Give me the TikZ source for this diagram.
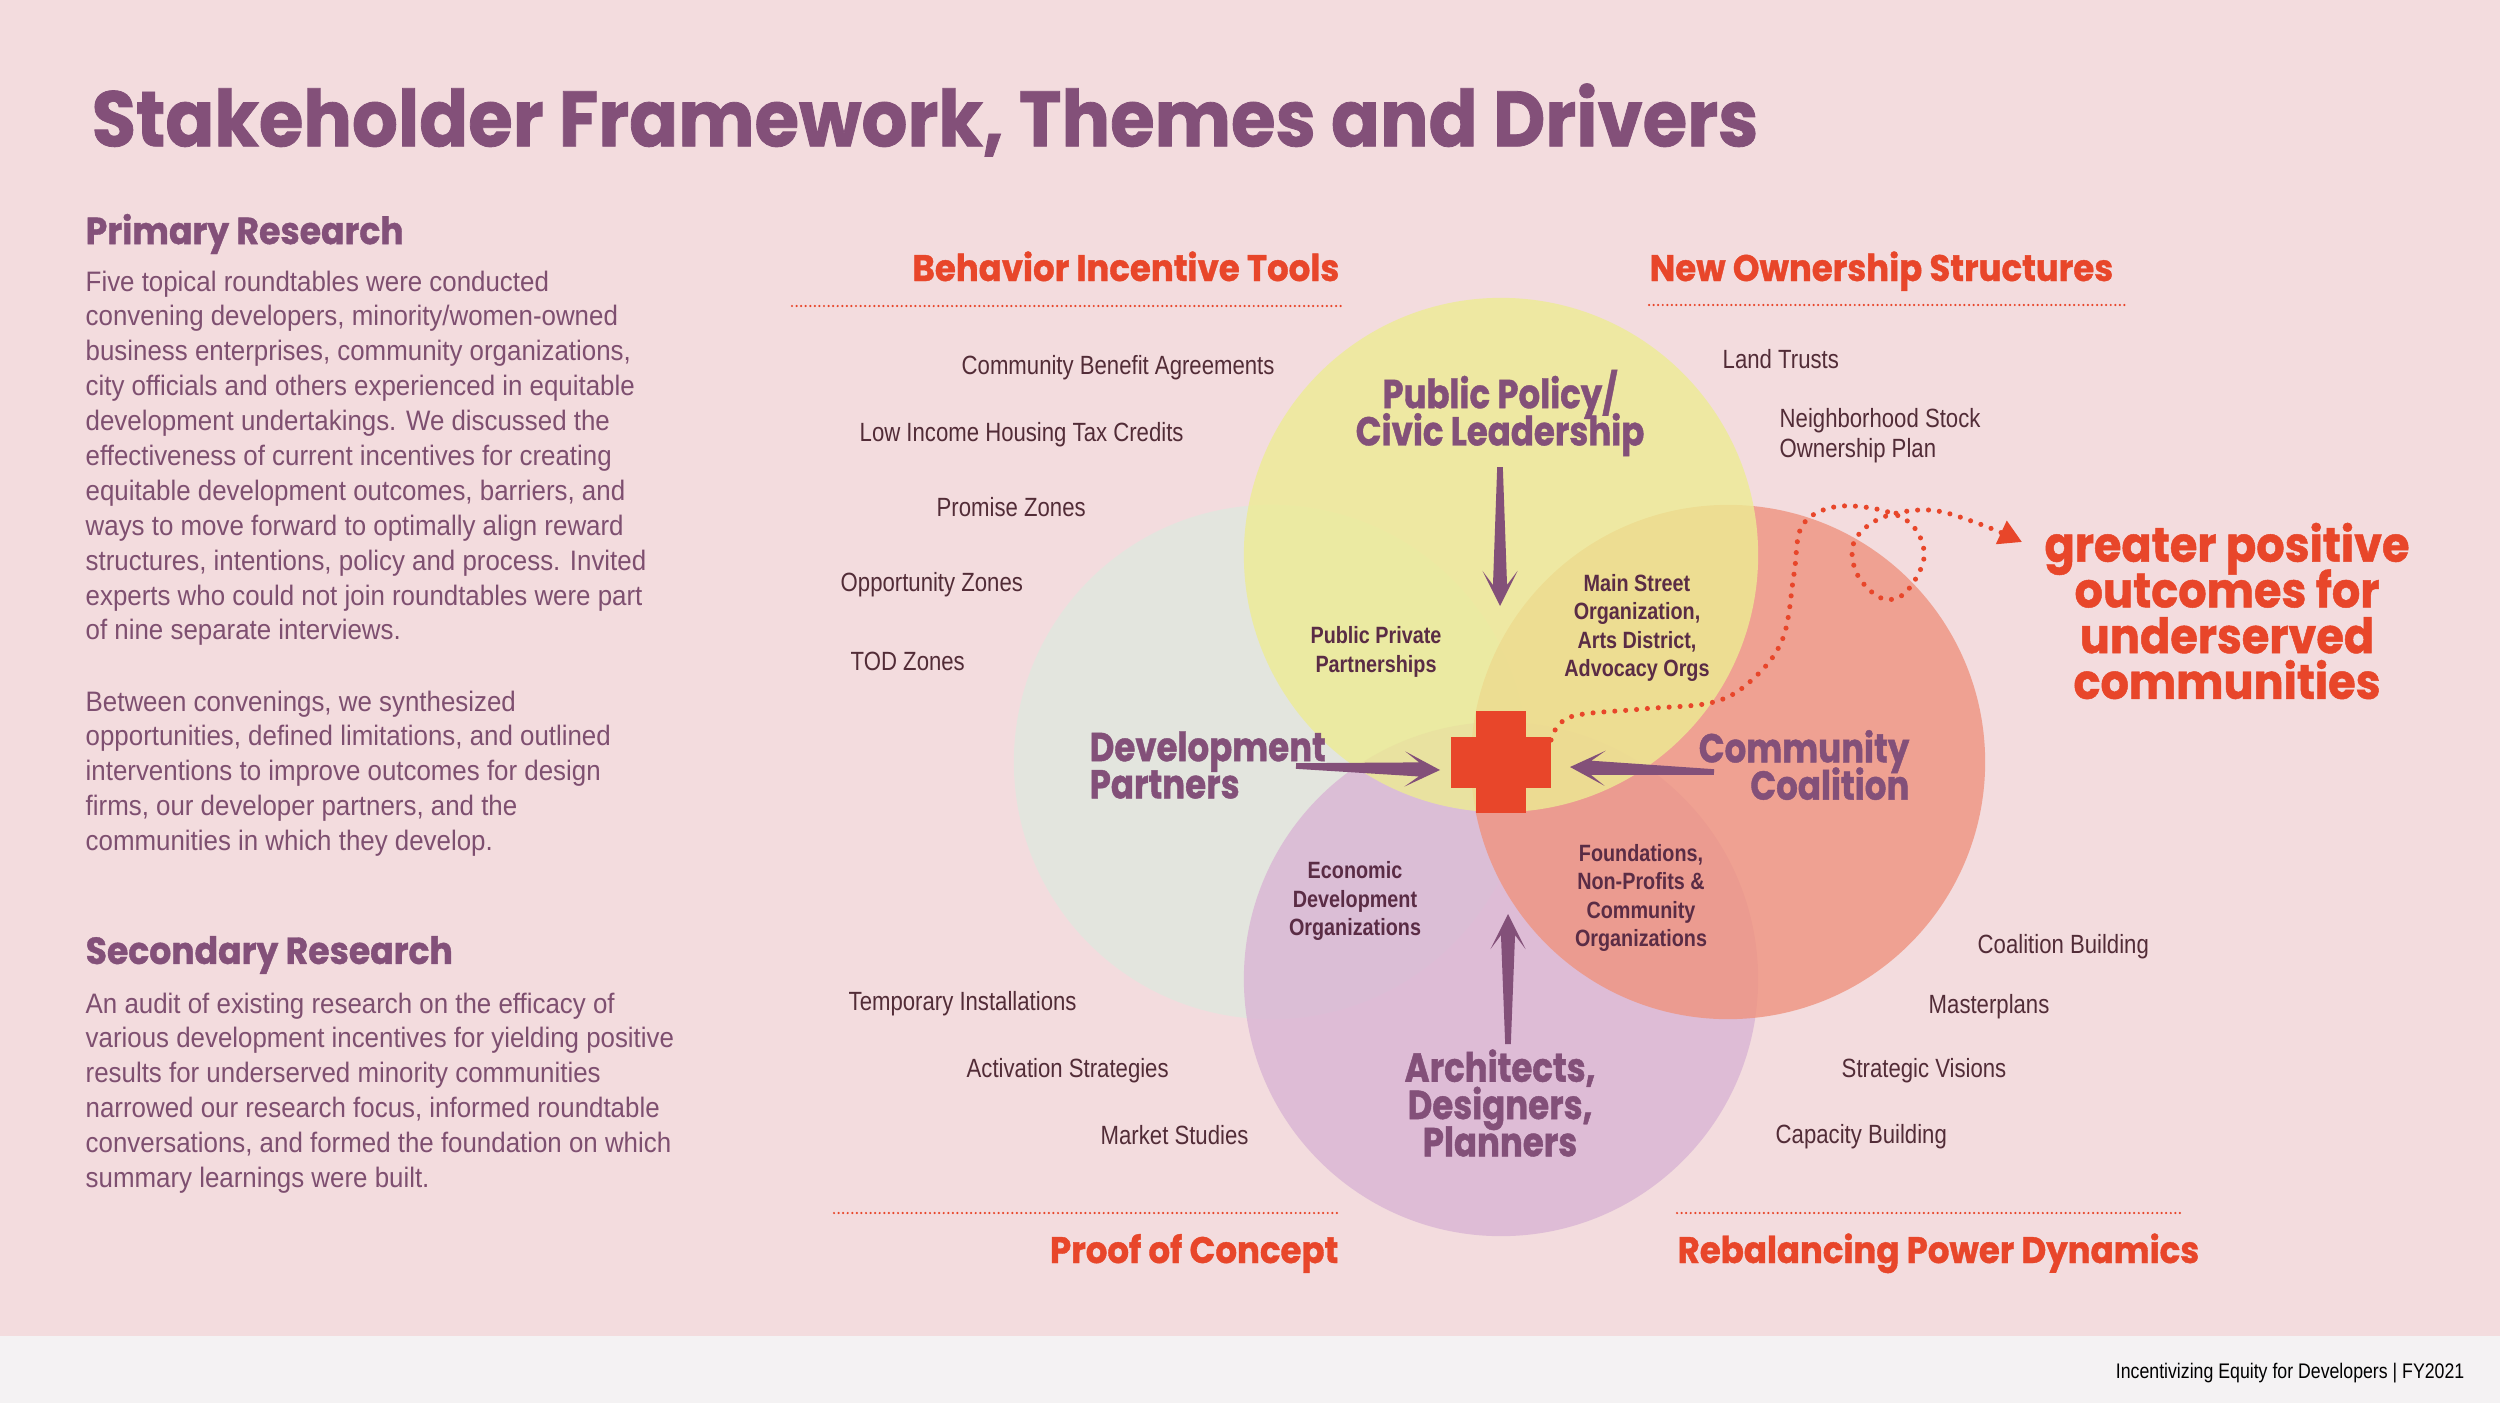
\documentclass[tikz,border=0pt]{standalone}
\usepackage{fontspec}
\setmainfont{Liberation Sans}[FakeStretch=0.84]
\newfontfamily\bodyfont{Liberation Sans}[FakeStretch=0.92]
\newfontfamily\dispfont{Poppins}[FakeStretch=0.92,FakeBold=1]
\newfontfamily\actorfont{Poppins}[FakeStretch=0.84,FakeBold=1]
\usetikzlibrary{arrows.meta}
\usetikzlibrary{calc}
\tikzset{>=latex}
\newcommand{\tightlines}{\lineskiplimit=-100pt\relax}
\definecolor{bgpink}{HTML}{F3DCDE}
\definecolor{footgray}{HTML}{F4F2F3}
\definecolor{myplum}{HTML}{835079}
\definecolor{bodyplum}{HTML}{7E4F70}
\definecolor{itembrown}{HTML}{522C37}
\definecolor{lapdark}{HTML}{5A2C45}
\definecolor{myred}{HTML}{E8462A}
\definecolor{cyellow}{HTML}{EDEC93}
\definecolor{cgreen}{HTML}{E0E8DF}
\definecolor{csalmon}{HTML}{EF937F}
\definecolor{clilac}{HTML}{D9B5D4}
\tikzset{
  title/.style={anchor=west,inner sep=0,text=myplum,font=\dispfont\bfseries\fontsize{22.3}{24}\selectfont},
  head/.style={anchor=west,inner sep=0,text=myplum,font=\dispfont\bfseries\fontsize{10.7}{13}\selectfont},
  body/.style={anchor=north west,inner sep=0,align=left,text=bodyplum,font=\bodyfont\fontsize{8}{9.92}\selectfont},
  theme/.style={inner sep=0,text=myred,font=\dispfont\bfseries\fontsize{10.5}{12}\selectfont},
  tool/.style={anchor=west,inner sep=0,align=left,text=itembrown,font=\fontsize{7.5}{8.6}\selectfont},
  actor/.style={inner sep=0,text=myplum,
    font=\actorfont\bfseries\fontsize{11.5}{10.6}\selectfont\tightlines},
  lap/.style={inner sep=0,align=center,text=lapdark,font=\bfseries\fontsize{6.7}{8.1}\selectfont},
  sepline/.style={myred,line width=0.7pt,line cap=round,dash pattern=on 0pt off 1.3pt},
  dotpath/.style={myred,line width=1.45pt,line cap=round,dash pattern=on 0pt off 3.1pt,
    -{Triangle[length=6.5pt,width=7pt]}},
  venn/.style={fill opacity=0.8},
}
% tapered plum arrow from a tail point to a tip point
\newcommand{\plumarrow}[2]{%
  \fill[myplum] ($(#1)!0.8pt!90:(#2)$) -- ($(#2)!6pt!(#1)!2pt!90:(#2)$)
    -- ($(#2)!10pt!(#1)!5pt!90:(#2)$) -- (#2)
    -- ($(#2)!10pt!(#1)!5pt!-90:(#2)$) -- ($(#2)!6pt!(#1)!2pt!-90:(#2)$)
    -- ($(#1)!0.8pt!-90:(#2)$) -- cycle;}

\begin{document}
\begin{tikzpicture}[x=0.01cm,y=-0.01cm]

  % PAGE
  \fill[bgpink] (0,0) rectangle (2500,1403);
  \useasboundingbox (0,0) rectangle (2500,1403);
  \fill[footgray] (0,1336) rectangle (2500,1403);
  \node[anchor=east,inner sep=0,font=\fontsize{6}{7}\selectfont] (foot) at (2465,1373)
    {Incentivizing Equity for Developers | FY2021};

  % LEFT COLUMN
  \node[title] (title) at (91,120) {Stakeholder Framework, Themes and Drivers};
  \node[head] (prim) at (85,234) {Primary Research};
  \node[body] (primtxt) at (85,270) {Five topical roundtables were conducted\\
    convening developers, minority/women-owned\\
    business enterprises, community organizations,\\
    city officials and others experienced in equitable\\
    development undertakings. We discussed the\\
    effectiveness of current incentives for creating\\
    equitable development outcomes, barriers, and\\
    ways to move forward to optimally align reward\\
    structures, intentions, policy and process. Invited\\
    experts who could not join roundtables were part\\
    of nine separate interviews.};
  \node[body] (primtxt2) at (85,690) {Between convenings, we synthesized\\
    opportunities, defined limitations, and outlined\\
    interventions to improve outcomes for design\\
    firms, our developer partners, and the\\
    communities in which they develop.};
  \node[head] (sec) at (85,955) {Secondary Research};
  \node[body] (sectxt) at (85,992) {An audit of existing research on the efficacy of\\
    various development incentives for yielding positive\\
    results for underserved minority communities\\
    narrowed our research focus, informed roundtable\\
    conversations, and formed the foundation on which\\
    summary learnings were built.};

  % VENN
  \coordinate (cross) at (1501,762);
  \fill[venn,cgreen] (1271,762) circle (2.57cm);
  \fill[venn,clilac] (1501,979) circle (2.57cm);
  \fill[venn,csalmon] (1728,762) circle (2.57cm);
  \fill[venn,cyellow] (1501,555) circle (2.57cm);
  \fill[myred] ([shift={(-25,-51)}]cross) rectangle ([shift={(25,51)}]cross);
  \fill[myred] ([shift={(-50,-25)}]cross) rectangle ([shift={(50,26)}]cross);

  \node[actor,align=center] (policy) at (1500,413) {Public Policy/\\Civic Leadership};
  \node[actor,align=left,anchor=west] (devp) at (1089,765) {Development\\Partners};
  \node[actor,align=right,anchor=east] (coal) at (1910,765) {Community\\Coalition};
  \node[actor,align=center] (arch) at (1500,1103) {Architects,\\Designers,\\Planners};

  \node[lap] (ppp) at (1376,652) {Public Private\\Partnerships};
  \node[lap] (main) at (1637,628) {Main Street\\Organization,\\Arts District,\\Advocacy Orgs};
  \node[lap] (econ) at (1355,901) {Economic\\Development\\Organizations};
  \node[lap] (found) at (1641,898) {Foundations,\\Non-Profits \&\\Community\\Organizations};

  % ARROWS
  \coordinate (ttail) at (1500,467);
  \coordinate (ttip) at (1500,606);
  \coordinate (btail) at (1508,1044);
  \coordinate (btip) at (1508,914);
  \coordinate (ltail) at (1296,766);
  \coordinate (ltip) at (1440,770);
  \coordinate (rtail) at (1714,772);
  \coordinate (rtip) at (1570,767);
  \plumarrow{ttail}{ttip}
  \plumarrow{btail}{btip}
  \plumarrow{ltail}{ltip}
  \plumarrow{rtail}{rtip}

  % THEMES
  \node[theme,anchor=base east] (bit) at (1340,281) {Behavior Incentive Tools};
  \node[theme,anchor=base west] (nos) at (1649,281) {New Ownership Structures};
  \node[theme,anchor=base east] (poc) at (1339,1263) {Proof of Concept};
  \node[theme,anchor=base west] (rpd) at (1677,1263) {Rebalancing Power Dynamics};
  \draw[sepline] (792,306) -- (1342,306);
  \draw[sepline] (1649,305) -- (2125,305);
  \draw[sepline] (834,1213) -- (1339,1213);
  \draw[sepline] (1677,1213) -- (2184,1213);

  % TOOLS
  \node[tool] (cba) at (961,368) {Community Benefit Agreements};
  \node[tool] (lihtc) at (859,435) {Low Income Housing Tax Credits};
  \node[tool] (pz) at (936,507) {Promise Zones};
  \node[tool] (oz) at (840,585) {Opportunity Zones};
  \node[tool] (tod) at (850,661) {TOD Zones};
  \node[tool] (temp) at (848,1004) {Temporary Installations};
  \node[tool] (act) at (966,1071) {Activation Strategies};
  \node[tool] (mkt) at (1100,1135) {Market Studies};
  \node[tool] (land) at (1722,359) {Land Trusts};
  \node[tool] (nsop) at (1779,436) {Neighborhood Stock\\Ownership Plan};
  \node[tool] (cb) at (1977,947) {Coalition Building};
  \node[tool] (mp) at (1928,1007) {Masterplans};
  \node[tool] (sv) at (1841,1071) {Strategic Visions};
  \node[tool] (cap) at (1775,1137) {Capacity Building};

  % OUTCOME
  \node[inner sep=0,align=center,text=myred,
    font=\dispfont\bfseries\fontsize{13.8}{13}\selectfont\tightlines]
    (goal) at (2227,611) {greater positive\\outcomes for\\underserved\\communities};
  \coordinate (cne) at (1551,740);
  \coordinate (tip) at (2022,542);
  \draw[dotpath] plot[smooth,tension=0.6] coordinates {(cne) (1570,717) (1642,709)
    (1714,702) (1754,678) (1783,638) (1794,574) (1802,526) (1834,507) (1881,510)
    (1913,526) (1924,558) (1905,593) (1881,598) (1857,574) (1854,542) (1881,518)
    (1929,510) (1977,523) (tip)};

\end{tikzpicture}
\end{document}
